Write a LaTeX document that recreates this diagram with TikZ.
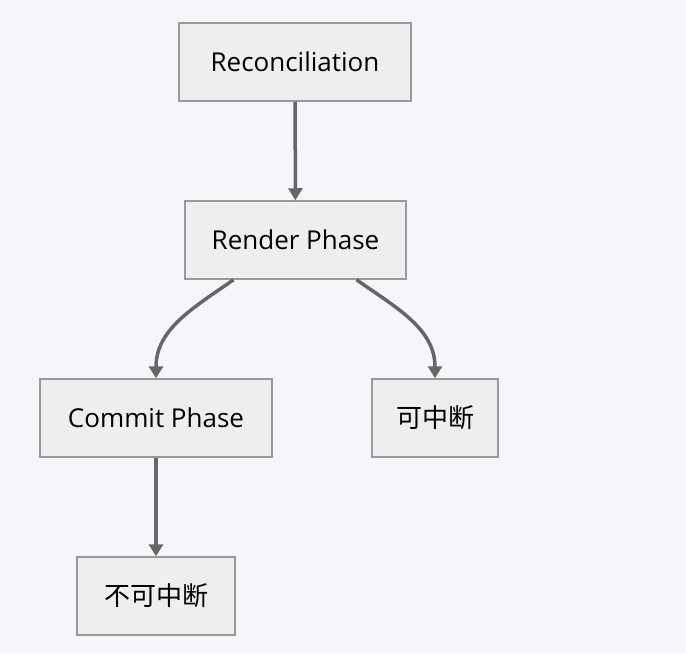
\documentclass[tikz,border=0pt]{standalone}
\usepackage{fontspec}
\setmainfont{Open Sans}
\newfontfamily\cjk{Noto Sans CJK SC}
\usetikzlibrary{arrows.meta}
\usetikzlibrary{positioning}
\definecolor{bgcol}{HTML}{F5F6FA}
\definecolor{boxfill}{HTML}{EEEEEE}
\definecolor{boxline}{HTML}{999999}
\definecolor{edgecol}{HTML}{666666}

\begin{document}
\begin{tikzpicture}[x=1pt, y=-1pt, >={Triangle[length=12pt,width=14pt]},
  phase/.style={draw=boxline, line width=1.5pt, fill=boxfill, inner sep=0pt, minimum height=78pt, font=\fontsize{26}{30}\selectfont},
  flow/.style={draw=edgecol, line width=3.5pt, ->}]
\path[fill=bgcol] (0,0) rectangle (686,654);
\node[phase, minimum width=232pt] (recon) at (295,62) {Reconciliation};
\node[phase, minimum width=221pt] (render) at (295.5,240) {Render Phase};
\node[phase, minimum width=232pt] (commit) at (156,418) {Commit Phase};
\node[phase, minimum width=126pt] (interrupt) at (435,418) {\cjk 可中断};
\node[phase, minimum width=158pt] (nointerrupt) at (156,596) {\cjk 不可中断};
\path[flow] (recon) -- (render);
\path[flow] ([xshift=-62pt]render.south) to[out=-145, in=90] (commit.north);
\path[flow] ([xshift=61pt]render.south) to[out=-35, in=90] (interrupt.north);
\path[flow] (commit) -- (nointerrupt);
\end{tikzpicture}
\end{document}
